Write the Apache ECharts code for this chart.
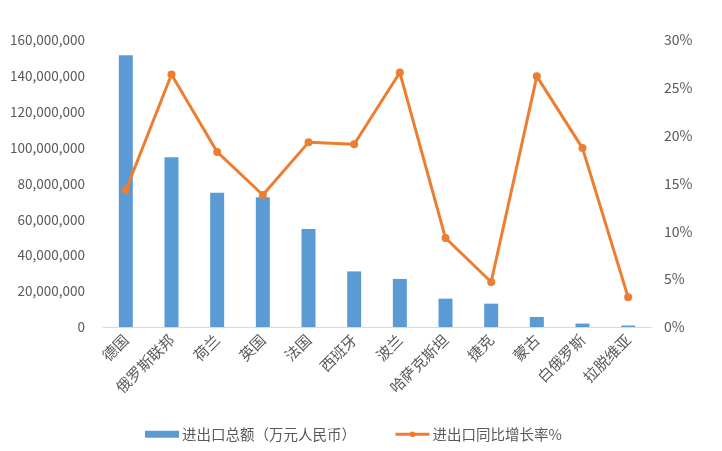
<!DOCTYPE html>
<html><head><meta charset="utf-8">
<script src="https://cdn.jsdelivr.net/npm/echarts@6/dist/echarts.min.js"></script>
<style>html,body{margin:0;padding:0;background:#fff}#c{width:722px;height:451px}</style>
</head><body><div id="c"></div>
<script>
const categories = ['德国','俄罗斯联邦','荷兰','英国','法国','西班牙','波兰','哈萨克斯坦','捷克','蒙古','白俄罗斯','拉脱维亚'];
const totals = [151500000, 94600000, 74900000, 72300000, 54600000, 31000000, 26800000, 15800000, 13000000, 5600000, 1900000, 800000];
const growth = [14.3, 26.4, 18.3, 13.8, 19.3, 19.1, 26.6, 9.3, 4.7, 26.2, 18.7, 3.1];
const barName = '进出口总额（万元人民币）';
const lineName = '进出口同比增长率%';

const chart = echarts.init(document.getElementById('c'));
const font = '"Noto Sans CJK SC", "Noto Sans", sans-serif';
chart.setOption({
  animation: false,
  textStyle: {fontFamily: font},
  grid: {left: 103, right: 71, top: 40, bottom: 124, containLabel: false},
  legend: {
    top: 422, left: 140, itemGap: 38, itemWidth: 34, itemHeight: 7,
    textStyle: {color: '#595959', fontSize: 14.5, fontFamily: font, padding: [0, 0, 0, -2]},
    data: [{name: barName, icon: 'rect'}, {name: lineName, lineStyle: {width: 3}}]
  },
  xAxis: {
    type: 'category', data: categories,
    axisLine: {lineStyle: {color: '#d9d9d9'}},
    axisTick: {show: false},
    axisLabel: {rotate: 45, color: '#595959', fontSize: 15, interval: 0, margin: 10}
  },
  yAxis: [{
    type: 'value', min: 0, max: 160000000, interval: 20000000,
    splitLine: {show: false}, axisLine: {show: false}, axisTick: {show: false},
    axisLabel: {color: '#595959', fontSize: 13.5, margin: 18,
      formatter: v => v.toLocaleString('en-US')}
  }, {
    type: 'value', min: 0, max: 30, interval: 5,
    splitLine: {show: false}, axisLine: {show: false}, axisTick: {show: false},
    axisLabel: {color: '#595959', fontSize: 14, margin: 13, formatter: '{value}%'}
  }],
  series: [{
    name: barName, type: 'bar', data: totals, barWidth: 14,
    itemStyle: {color: '#5B9BD5'}
  }, {
    name: lineName, type: 'line', yAxisIndex: 1, data: growth,
    symbol: 'circle', symbolSize: 8,
    lineStyle: {color: '#ED7D31', width: 3},
    itemStyle: {color: '#ED7D31'}
  }]
});
</script></body></html>
